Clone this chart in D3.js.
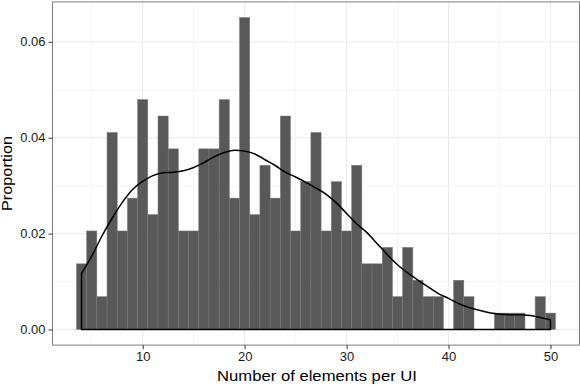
<!DOCTYPE html>
<html>
<head>
<meta charset="utf-8">
<script src="https://cdnjs.cloudflare.com/ajax/libs/d3/7.8.5/d3.min.js"></script>
<style>
  body { margin: 0; background: #fff; }
  text { font-family: "Liberation Sans", Arial, Helvetica, sans-serif; }
</style>
</head>
<body>
<div class="main"></div>
<script>
// number of elements per UI (integer bins) and how many UIs had it
let elements = [4,5,6,7,8,9,10,11,12,13,14,15,16,17,18,19,20,21,22,23,24,25,26,27,
                28,29,30,31,32,33,34,35,36,37,38,39,40,41,42,43,44,45,46,47,48,49,50];
let counts   = [4,6,2,12,6,8,14,7,13,11,6,6,11,11,14,8,19,7,10,8,13,6,9,12,
                6,9,6,10,4,4,5,2,5,3,2,2,0,3,2,0,0,1,1,1,0,2,1];

// density curve at each integer x
let densX = elements;
let densY = [0.0117,0.0153,0.0195,0.0232,0.0265,0.0292,0.0309,0.0321,0.0327,0.0328,0.0331,0.0338,
             0.0348,0.0360,0.0369,0.0374,0.0372,0.0366,0.0354,0.0342,0.0328,0.0318,0.0307,0.0295,
             0.0282,0.0264,0.0242,0.0220,0.0202,0.0179,0.0156,0.0135,0.0118,0.0103,0.0089,0.0075,
             0.0065,0.0054,0.0046,0.0040,0.0035,0.0032,0.0031,0.0031,0.0029,0.0025,0.0020];

let xTicks = [10,20,30,40,50];
let xMinor = [5,15,25,35,45];
let yTicks = [0,0.02,0.04,0.06];
let yMinor = [0.01,0.03,0.05];

(function() {
  let width = 580, height = 386;
  let pLeft = 52.5, pRight = 579.5, pTop = 1.9, pBottom = 345.1;

  let total = d3.sum(counts);
  let props = counts.map(c => c / total);

  let svg = d3.select("div.main").append("svg")
    .attr("width", width)
    .attr("height", height);

  // ggplot style 5% expansion on both axes
  let xLo = d3.min(elements) - 0.5, xHi = d3.max(elements) + 0.5;
  let xPad = (xHi - xLo) * 0.05;
  let x = d3.scaleLinear()
    .domain([xLo - xPad, xHi + xPad])
    .range([pLeft, pRight]);

  let yMax = d3.max(props);
  let y = d3.scaleLinear()
    .domain([-yMax * 0.05, yMax * 1.05])
    .range([pBottom, pTop]);

  // grid
  let grid = svg.append("g");
  grid.selectAll("line.xminor").data(xMinor).enter().append("line")
    .attr("x1", d => x(d)).attr("x2", d => x(d))
    .attr("y1", pTop).attr("y2", pBottom)
    .attr("stroke", "#f5f5f5").attr("stroke-width", 1);
  grid.selectAll("line.yminor").data(yMinor).enter().append("line")
    .attr("x1", pLeft).attr("x2", pRight)
    .attr("y1", d => y(d)).attr("y2", d => y(d))
    .attr("stroke", "#f5f5f5").attr("stroke-width", 1);
  grid.selectAll("line.xmajor").data(xTicks).enter().append("line")
    .attr("x1", d => x(d)).attr("x2", d => x(d))
    .attr("y1", pTop).attr("y2", pBottom)
    .attr("stroke", "#ebebeb").attr("stroke-width", 1);
  grid.selectAll("line.ymajor").data(yTicks).enter().append("line")
    .attr("x1", pLeft).attr("x2", pRight)
    .attr("y1", d => y(d)).attr("y2", d => y(d))
    .attr("stroke", "#ebebeb").attr("stroke-width", 1);

  // bars
  svg.append("g").selectAll("rect")
    .data(elements)
    .enter().append("rect")
      .attr("x", d => x(d - 0.5))
      .attr("width", d => x(d + 0.5) - x(d - 0.5))
      .attr("y", (d, i) => y(props[i]))
      .attr("height", (d, i) => y(0) - y(props[i]))
      .attr("fill", "#595959")
      .attr("stroke", (d, i) => props[i] > 0 ? "#7a7a7a" : "none")
      .attr("stroke-width", 0.5);

  // density outline (closed down to zero at both ends)
  let pts = densX.map((d, i) => [d, densY[i]]);
  let line = d3.line()
    .x(d => x(d[0]))
    .y(d => y(d[1]))
    .curve(d3.curveMonotoneX);
  let first = pts[0], last = pts[pts.length - 1];
  let path = "M" + x(first[0]) + "," + y(0) + "L" + line(pts).slice(1) +
    "L" + x(last[0]) + "," + y(0) + "Z";
  svg.append("path")
    .attr("d", path)
    .attr("fill", "none")
    .attr("stroke", "#000")
    .attr("stroke-width", 1.5)
    .attr("stroke-linejoin", "round");

  // panel border
  svg.append("rect")
    .attr("x", pLeft).attr("y", pTop)
    .attr("width", pRight - pLeft).attr("height", pBottom - pTop)
    .attr("fill", "none")
    .attr("stroke", "#7f7f7f")
    .attr("stroke-width", 1);

  // axes
  let xAxis = svg.append("g")
    .attr("transform", "translate(0," + pBottom + ")")
    .call(d3.axisBottom(x).tickValues(xTicks).tickSize(4).tickPadding(3));
  let yAxis = svg.append("g")
    .attr("transform", "translate(" + pLeft + ",0)")
    .call(d3.axisLeft(y).tickValues(yTicks).tickFormat(d3.format(".2f")).tickSize(4).tickPadding(3));
  [xAxis, yAxis].forEach(function(a) {
    a.select(".domain").remove();
    a.selectAll(".tick line").attr("stroke", "#333");
    a.selectAll(".tick text")
      .attr("fill", "#1a1a1a")
      .style("font-size", "13px")
      .style("font-family", "'Liberation Sans', Arial, sans-serif");
  });

  // axis titles (the original glyphs are a bit wider than Arial's)
  svg.append("text")
    .attr("x", 317)
    .attr("y", 381)
    .attr("text-anchor", "middle")
    .attr("fill", "#000")
    .attr("textLength", 200)
    .attr("lengthAdjust", "spacingAndGlyphs")
    .style("font-size", "14px")
    .text("Number of elements per UI");

  svg.append("text")
    .attr("transform", "translate(11.7," + (pTop + pBottom) / 2 + ") rotate(-90)")
    .attr("text-anchor", "middle")
    .attr("fill", "#000")
    .attr("textLength", 75)
    .attr("lengthAdjust", "spacingAndGlyphs")
    .style("font-size", "14px")
    .text("Proportion");
})();
</script>
</body>
</html>
